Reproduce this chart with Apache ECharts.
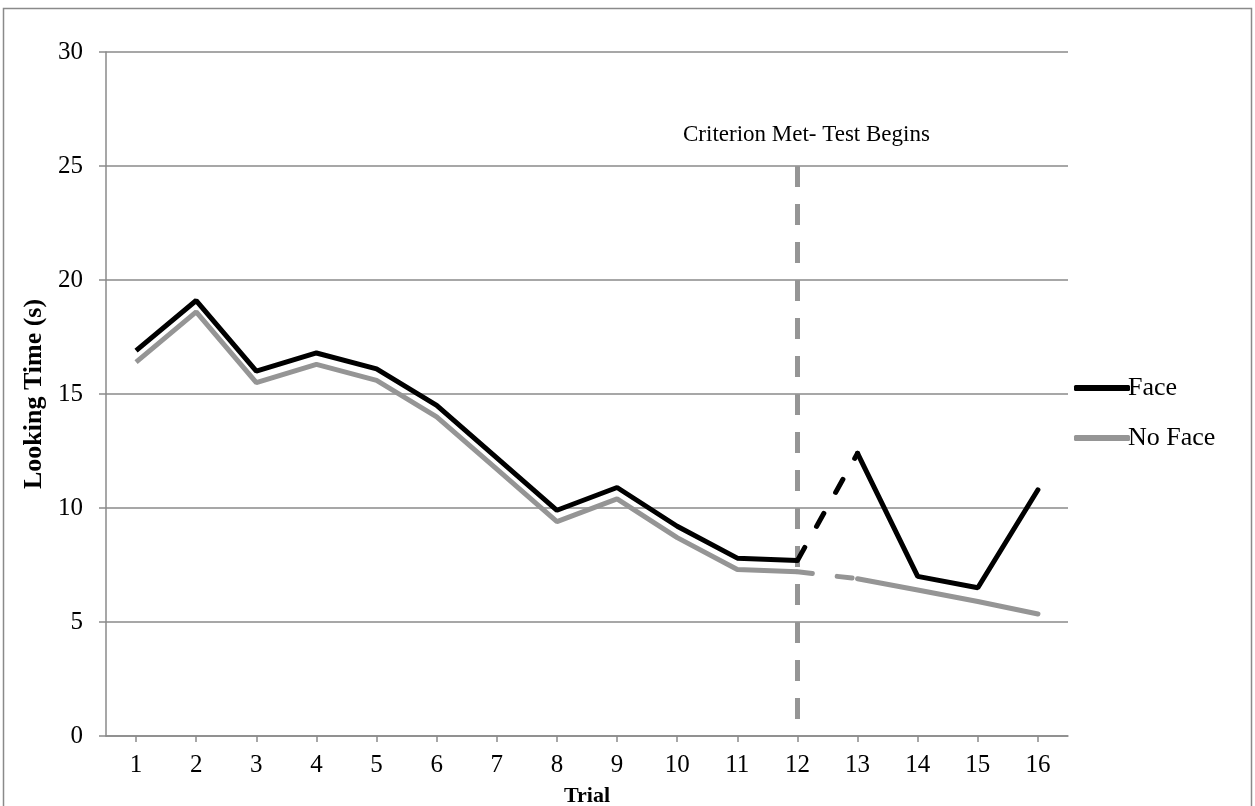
<!DOCTYPE html>
<html><head><meta charset="utf-8">
<script src="https://cdn.jsdelivr.net/npm/echarts@6/dist/echarts.min.js"></script>
<style>html,body{margin:0;padding:0;background:#fff;overflow:hidden}#c{width:1255px;height:806px}</style>
</head><body><div id="c"></div>
<script>
const categories = ['1','2','3','4','5','6','7','8','9','10','11','12','13','14','15','16'];
const faceValues = [16.9,19.1,16.0,16.8,16.1,14.5,12.2,9.9,10.9,9.2,7.8,7.7,12.4,7.0,6.5,10.8];
const noFaceValues = [16.4,18.6,15.5,16.3,15.6,14.0,11.7,9.4,10.4,8.7,7.3,7.2,6.9,6.4,5.9,5.35];
const yTicks = [0,5,10,15,20,25,30];
const criterionTrial = '12';
const criterionTop = 25;

const testStart = categories.indexOf(criterionTrial);
function seg(arr, from, to){ return arr.map((v,i)=> (i>=from && i<=to) ? v : null); }

const FONT = '"Liberation Serif", "Times New Roman", serif';
const BLACK = '#000000', GREY = '#959595', AXIS = '#8a8a8a';

const chart = echarts.init(document.getElementById('c'));
chart.setOption({
  animation:false,
  textStyle:{fontFamily:FONT},
  grid:{left:106,right:187,top:52,bottom:70,outerBoundsMode:'none',containLabel:false},
  graphic:[{type:'rect',shape:{x:3.5,y:8.5,width:1248,height:800},style:{fill:'none',stroke:AXIS,lineWidth:1.5},silent:true}],
  legend:{
    orient:'vertical', left:1069, top:370, itemWidth:56, itemHeight:6, itemGap:24,
    textStyle:{fontFamily:FONT,fontSize:26,lineHeight:26,color:'#000',padding:[0,0,0,-7]},
    data:[
      {name:'Face',icon:'roundRect',itemStyle:{color:BLACK}},
      {name:'No Face',icon:'roundRect',itemStyle:{color:GREY}}
    ]
  },
  xAxis:{
    type:'category', data:categories, boundaryGap:true,
    name:'Trial', nameLocation:'middle', nameGap:49,
    nameTextStyle:{fontFamily:FONT,fontSize:22,fontWeight:'bold',color:'#000'},
    axisLine:{lineStyle:{color:AXIS,width:1.5}},
    axisTick:{show:true,alignWithLabel:true,length:6,lineStyle:{color:AXIS,width:1.5}},
    axisLabel:{fontFamily:FONT,fontSize:25,color:'#000',margin:17},
    splitLine:{show:false}
  },
  yAxis:{
    type:'value', min:yTicks[0], max:yTicks[yTicks.length-1], interval:yTicks[1]-yTicks[0],
    name:'Looking Time (s)', nameLocation:'middle', nameGap:57,
    nameTextStyle:{fontFamily:FONT,fontSize:26,fontWeight:'bold',color:'#000'},
    axisLine:{show:true,lineStyle:{color:AXIS,width:1.5}},
    axisTick:{show:true,length:7,lineStyle:{color:AXIS,width:1.5}},
    axisLabel:{fontFamily:FONT,fontSize:25,color:'#000',margin:23},
    splitLine:{lineStyle:{color:AXIS,width:1.5}}
  },
  series:[
    {name:'Face',type:'line',data:seg(faceValues,0,testStart),symbol:'none',lineStyle:{color:BLACK,width:5},itemStyle:{color:BLACK},z:5,
      markLine:{silent:true,symbol:'none',animation:false,
        lineStyle:{color:GREY,width:5,type:[21,17]},
        label:{show:true,position:'start',formatter:'Criterion Met- Test Begins',fontFamily:FONT,fontSize:23,color:'#000',distance:20,padding:[0,0,0,18]},
        data:[[{coord:[criterionTrial,criterionTop]},{coord:[criterionTrial,0]}]]}},
    {name:'Face',type:'line',data:seg(faceValues,testStart,testStart+1),symbol:'none',lineStyle:{color:BLACK,width:5,type:[15,24],cap:'round',dashOffset:0},itemStyle:{color:BLACK},z:5},
    {name:'Face',type:'line',data:seg(faceValues,testStart+1,categories.length-1),symbol:'none',lineStyle:{color:BLACK,width:5,cap:'round'},itemStyle:{color:BLACK},z:5},
    {name:'No Face',type:'line',data:seg(noFaceValues,0,testStart),symbol:'none',lineStyle:{color:GREY,width:5},itemStyle:{color:GREY},z:4},
    {name:'No Face',type:'line',data:seg(noFaceValues,testStart,testStart+1),symbol:'none',lineStyle:{color:GREY,width:5,type:[15,25],cap:'round'},itemStyle:{color:GREY},z:4},
    {name:'No Face',type:'line',data:seg(noFaceValues,testStart+1,categories.length-1),symbol:'none',lineStyle:{color:GREY,width:5,cap:'round'},itemStyle:{color:GREY},z:4}
  ]
});
</script></body></html>
